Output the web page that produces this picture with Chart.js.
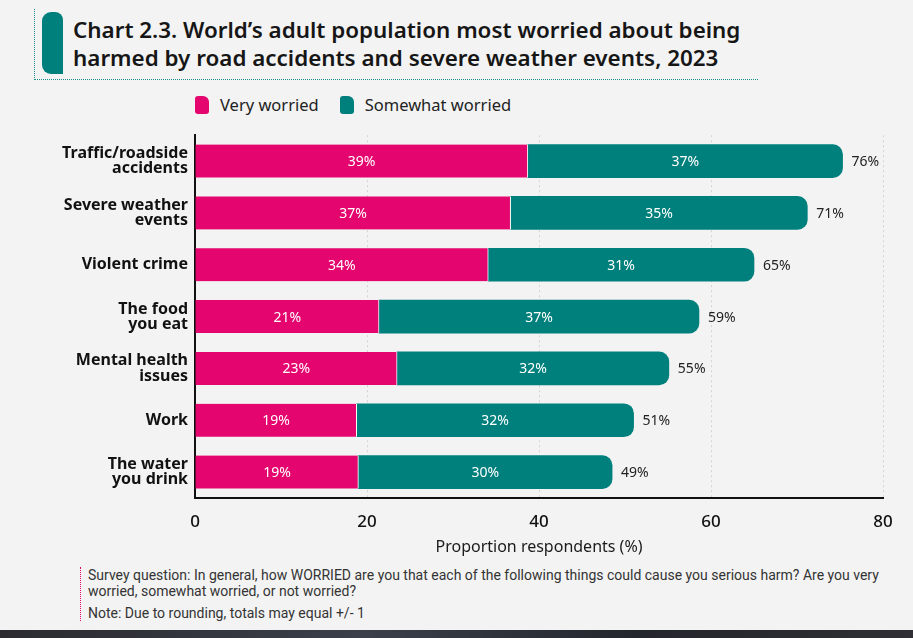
<!DOCTYPE html>
<html>
<head>
<meta charset="utf-8">
<script src="https://cdn.jsdelivr.net/npm/chart.js@4"></script>
<style>
	html, body { margin: 0; padding: 0; }
	body {
		width: 913px; height: 638px; overflow: hidden; position: relative;
		background: #f3f3f3;
		font-family: "Noto Sans", sans-serif;
	}
	#titleBox {
		position: absolute; left: 34px; top: 9px; width: 723px; height: 70px;
		border-left: 1.5px dotted #1a8f8a; border-bottom: 1.5px dotted #1a8f8a;
	}
	#titleMark {
		position: absolute; left: 42px; top: 12px; width: 21px; height: 62px;
		background: #00807d; border-radius: 9px 8px 0 9px;
	}
	#title {
		position: absolute; left: 73px; top: 16px;
		font-family: "Noto Sans", sans-serif; font-weight: 600; font-size: 22.4px;
		line-height: 28px; color: #161616; white-space: nowrap;
	}
	#legend {
		position: absolute; left: 195px; top: 93px; font-size: 16.5px; color: #222;
		display: flex; align-items: center; white-space: nowrap;
	}
	#legend span.box {
		display: inline-block; width: 14px; height: 18px; border-radius: 3px 6px 3px 3px;
		margin-right: 11px;
	}
	#legend span.item { display: flex; align-items: center; }
	#chartWrap { position: absolute; left: 0; top: 113px; width: 913px; height: 447px; }
	#note {
		position: absolute; left: 80px; top: 567px; padding-left: 7px;
		border-left: 1.5px dotted #e4066e;
		font-family: Roboto, sans-serif; font-size: 14px; color: #333; line-height: 16px;
		white-space: nowrap;
	}
	#note p { margin: 0; }
	#note p + p { margin-top: 6px; }
	#strip {
		position: absolute; left: 0; bottom: 0; width: 913px; height: 8px;
		background: linear-gradient(90deg, #2b2b30, #3a3f4a 40%, #23262c 70%, #2f2f35);
	}
</style>
</head>
<body>
<div id="titleBox"></div>
<div id="titleMark"></div>
<div id="title">Chart 2.3. World’s adult population most worried about being<br>harmed by road accidents and severe weather events, 2023</div>
<div id="legend">
	<span class="item" style="margin-right:21px"><span class="box" style="background:#e4066e"></span>Very worried</span>
	<span class="item"><span class="box" style="background:#00807d"></span>Somewhat worried</span>
</div>
<div id="chartWrap"><canvas id="reportChart"></canvas></div>
<div id="note">
	<p>Survey question: In general, how WORRIED are you that each of the following things could cause you serious harm? Are you very<br>worried, somewhat worried, or not worried?</p>
	<p>Note: Due to rounding, totals may equal +/- 1</p>
</div>
<div id="strip"></div>

<script>
const categories = [
	['Traffic/roadside', 'accidents'],
	['Severe weather', 'events'],
	'Violent crime',
	['The food', 'you eat'],
	['Mental health', 'issues'],
	'Work',
	['The water', 'you drink']
];

// values
const veryWorried = [38.7, 36.7, 34.1, 21.4, 23.5, 18.8, 19.0];
const somewhatWorried = [36.6, 34.5, 30.9, 37.2, 31.6, 32.2, 29.5];

// printed labels
const veryLabels = ['39%', '37%', '34%', '21%', '23%', '19%', '19%'];
const somewhatLabels = ['37%', '35%', '31%', '37%', '32%', '32%', '30%'];
const totalLabels = ['76%', '71%', '65%', '59%', '55%', '51%', '49%'];

const xTicks = [0, 20, 40, 60, 80];

const barLabels = {
	id: 'barLabels',
	afterDatasetsDraw(chart) {
		const ctx = chart.ctx;
		ctx.save();
		ctx.font = '14px "Noto Sans"';
		ctx.textBaseline = 'middle';
		ctx.textAlign = 'center';
		ctx.fillStyle = '#ffffff';
		[veryLabels, somewhatLabels].forEach((labels, di) => {
			chart.getDatasetMeta(di).data.forEach((bar, i) => {
				const p = bar.getProps(['x', 'y', 'base'], true);
				ctx.fillText(labels[i], (p.x + p.base) / 2, p.y + 1);
			});
		});
		ctx.textAlign = 'left';
		ctx.fillStyle = '#222222';
		chart.getDatasetMeta(1).data.forEach((bar, i) => {
			const p = bar.getProps(['x', 'y'], true);
			ctx.fillText(totalLabels[i], p.x + 9, p.y + 1);
		});
		ctx.restore();
	}
};

let canvas = document.getElementById('reportChart');
let context = canvas.getContext('2d');

let data = {
	labels: categories,
	datasets: [{
		label: 'Very worried',
		data: veryWorried,
		backgroundColor: '#e4066e',
		borderColor: '#ffffff',
		borderWidth: {right: 1, left: 0, top: 0, bottom: 0},
		borderSkipped: false,
		barThickness: 33
	}, {
		label: 'Somewhat worried',
		data: somewhatWorried,
		backgroundColor: '#00807d',
		borderWidth: 0,
		borderRadius: {topRight: 10, bottomRight: 10, topLeft: 0, bottomLeft: 0},
		borderSkipped: false,
		barThickness: 33
	}]
};

let xScaleConfig = {
	stacked: true,
	min: 0,
	max: 80,
	afterBuildTicks: (scale) => {
		scale.ticks = xTicks.map(v => ({value: v}));
	},
	afterFit: (scale) => {
		scale.height = 62;
	},
	grid: {
		color: 'rgba(0,0,0,0.13)',
		drawTicks: false,
		lineWidth: 1
	},
	border: {
		display: true,
		color: '#111111',
		width: 2,
		dash: [2, 3]
	},
	ticks: {
		padding: 14,
		color: '#111111',
		font: {family: 'Noto Sans', size: 17, weight: '500'}
	},
	title: {
		display: true,
		text: 'Proportion respondents (%)',
		color: '#1a1a1a',
		font: {family: 'Noto Sans', size: 16},
		padding: {top: 0, bottom: 3}
	}
};

let yScaleConfig = {
	stacked: true,
	afterFit: (scale) => {
		scale.width = 195;
	},
	grid: {
		display: false,
		drawTicks: false
	},
	border: {
		display: true,
		color: '#111111',
		width: 2
	},
	ticks: {
		padding: 7,
		color: '#111111',
		font: {family: 'Noto Sans', size: 16, weight: 'bold', lineHeight: 0.95}
	}
};

let config = {
	type: 'bar',
	data: data,
	options: {
		indexAxis: 'y',
		responsive: true,
		maintainAspectRatio: false,
		animation: false,
		layout: {
			padding: {left: 0, right: 30, top: 9, bottom: 0}
		},
		scales: {
			x: xScaleConfig,
			y: yScaleConfig
		},
		plugins: {
			legend: {display: false},
			tooltip: {enabled: false}
		}
	},
	plugins: [barLabels]
};

let chart = new Chart(context, config);
</script>
</body>
</html>
